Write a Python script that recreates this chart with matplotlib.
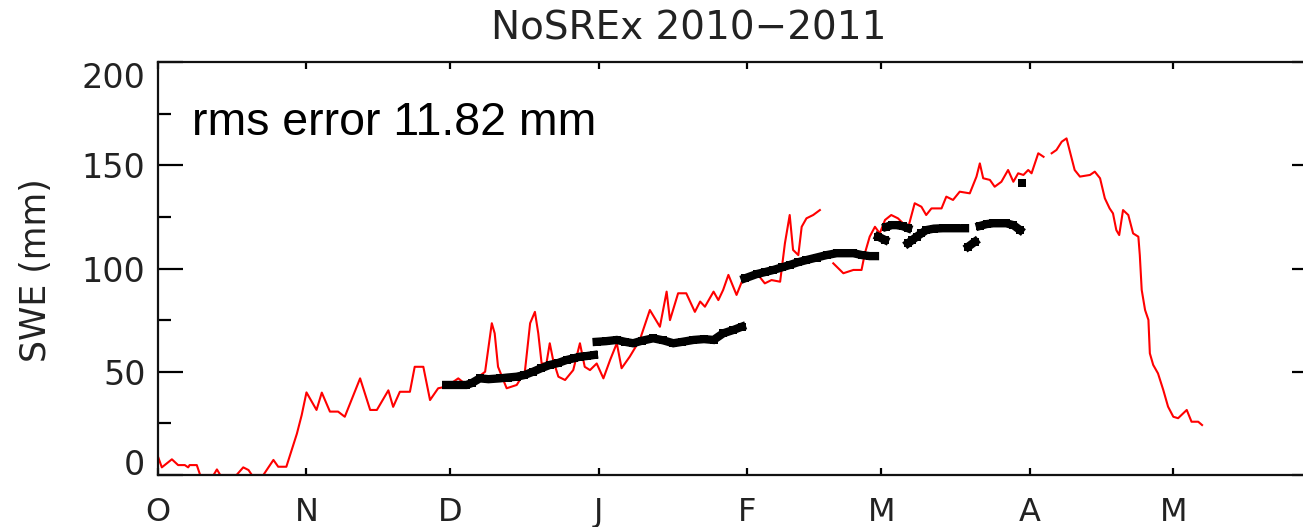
import numpy as np
import matplotlib
matplotlib.use("Agg")
import matplotlib.pyplot as plt

# days since 1 Oct 2010
model_day = [0, 0.8, 2.9, 4.2, 5.6, 6.3, 6.6, 8.1, 8.8, 11.6, 12.3, 13, 16.4, 17.8, 18.9, 19.6, 22,
             24.1, 25.1, 26.8, 27.9, 29, 30, 31, 33.1, 34.2, 35.9, 37.6, 39, 40.4, 42.2, 44.3, 45.7,
             48.1, 49.1, 50.5, 52.6, 53.6, 55.4, 56.8, 58.5, 60.2, 62.7, 64.8, 66.5, 68.3, 69.7, 70.3,
             71, 72.8, 74.9, 76.6, 77.7, 78.7, 79.4, 80.1, 81.1, 81.8, 82.5, 83.6, 85, 86.7, 88.1, 89.1,
             90.2, 91.6, 93, 94.4, 95.8, 96.8, 98.5, 100.6, 102.7, 104.8, 106.2, 106.9, 108.6, 110.3,
             112.1, 113.2, 114.2, 116, 117, 118, 119.1, 120.8, 121.9, 123.6, 125.3, 126.7, 128.1, 129.9,
             130.9, 131.9, 132.6, 133.7, 134.4, 135.4, 136.8, 138.2,
             np.nan,
             141, 143.1, 145.2, 146.9, 147.6, 148.6, 149.7, 150.7, 151.8, 153.1, 154.5, 156.6, 158,
             159.4, 160.4, 161.5, 163.6, 164.6, 166, 167.4, 169.5, 170.9, 171.6, 172.3, 173.7, 174.7,
             176.1, 177.5, 178.6, 179.6, 180.7, 181.7, 182.4, 183.8, 184.9,
             np.nan,
             186.6, 187.6, 188.7, 189.7, 190.7, 191.4, 192.5, 194.6, 195.6, 196.7, 197.7, 198.7, 199.4,
             200.1, 200.7, 201.5, 202.6, 203.6, 204.7, 205, 205.4, 206.1, 206.8, 207.1, 207.8, 208.8,
             209.9, 210.9, 212, 213, 214.1, 214.8, 215.8, 217.2, 218]
model_swe = [8.9, 3.7, 7.6, 4.8, 4.8, 3.7, 4.8, 4.8, 0, 0, 2.7, 0, 0, 3.7, 2.4, 0, 0,
             7.3, 4, 4, 12, 20, 29, 40, 31.5, 39.9, 30.7, 30.7, 28.2, 36.3, 46.8, 31.5, 31.5,
             41, 33, 40.3, 40.3, 52.4, 52.4, 36.3, 42, 42.8, 46.8, 42.8, 46.8, 50, 73.5, 68.6,
             52.4, 42, 43.6, 50, 73.5, 79, 68.6, 54, 54, 63.8, 55.7, 47.6, 46, 50.8, 63.8, 52.4,
             50.8, 54, 46.8, 55.7, 63.8, 51.7, 57.3, 65.4, 79.9, 71.8, 88.8, 75, 88, 88,
             79, 84, 81.5, 88.8, 84.7, 89.6, 96.9, 87.2, 93.6, 96, 96.9, 92.8, 94.4, 93.6,
             112.2, 125.9, 109, 106.5, 120.2, 124.3, 125.9, 128.3,
             np.nan,
             102.5, 97.7, 99.3, 99.3, 107.4, 115.4, 120.2, 117, 123.5, 125.9, 124.3, 119.5, 131.6,
             129.9, 125.9, 129.1, 129.1, 134.8, 133.2, 137.2, 136.4, 144.5, 150.9, 143.7, 142.9, 139.6,
             142, 147.7, 142, 146.1, 145.3, 147.7, 146.1, 155.8, 154.1,
             np.nan,
             155.8, 157.4, 161.4, 163, 154.1, 147.7, 144.5, 145.3, 146.9, 143.7, 134, 129.1, 126.7,
             118.6, 116.2, 128.3, 125.9, 117, 115.4, 106.5, 89.6, 79.9, 75.1, 58.9, 53.3, 49.2,
             41.2, 33.1, 28.2, 27.5, 29.9, 31.5, 25.8, 25.8, 24.2]

obs_day = [60.2, 62, 64.4, 65.5, 67.2, 69, 71.4, 73, 74.9, 76.5, 78.3, 80, 81.8, 83.5, 85.3, 86.8, 88.1, 89.5, 91,
           np.nan,
           91.6, 93.5, 95.8, 97.5, 99.2, 101, 103.4, 105.5, 107.6, 109.5, 111.8, 114, 116, 118, 120.1, 121.9,
           np.nan,
           122.5, 125, 126.8, 128.5, 130.2, 131.9, 133.6, 135.4, 137.5, 139.6, 141.7, 143.5, 145.2, 147, 148.6, 149.7,
           np.nan,
           150.4, 151.8,
           np.nan,
           152.1, 153.2, 154.2, 155.5, 156.6,
           np.nan,
           156.6, 157.5, 158.4, 159.4, 160.4, 162, 163.9, 165.3, 166.7, 168.5,
           np.nan,
           169.2, 170.6,
           np.nan,
           171.6, 173, 174.4, 175.8, 177.1, 178.6, 180,
           np.nan,
           180.5]
obs_swe = [43.6, 43.6, 43.6, 44.5, 46.8, 46.4, 46.8, 47.2, 47.6, 48.4, 50, 51.7, 53.3, 54.2, 55.7, 56.5, 57.3, 57.6, 58.1,
           np.nan,
           64.5, 64.8, 65.4, 64.5, 63.8, 65, 66.2, 65.2, 63.8, 64.5, 65.4, 65.8, 65.4, 68.6, 70.2, 71.8,
           np.nan,
           95.2, 97.3, 98.3, 99.3, 100.5, 101.7, 103, 104.1, 105.3, 106.5, 107.4, 107.4, 107.4, 106.5, 106, 106,
           np.nan,
           115.4, 113.8,
           np.nan,
           120.2, 121, 121, 120.5, 119.5,
           np.nan,
           112.2, 113.8, 115.4, 117, 118.6, 119.3, 119.5, 119.5, 119.5, 119.5,
           np.nan,
           110.6, 113,
           np.nan,
           120.6, 121.5, 121.9, 121.9, 121.9, 121, 118.6,
           np.nan,
           141.3]

month_start = [0, 31, 61, 92, 123, 151, 182, 212]
month_label = ['O', 'N', 'D', 'J', 'F', 'M', 'A', 'M']

fig = plt.figure(figsize=(13.03, 5.27), dpi=100)
ax = fig.add_axes([158/1303, 1-475/527, (1317-158)/1303, (475-62)/527])

ax.plot(model_day, model_swe, color='red', lw=1.5)
ax.plot(obs_day, obs_swe, color='black', lw=6, solid_capstyle='projecting',
        solid_joinstyle='miter', marker='s', ms=5.5, mew=0)

ax.set_xlim(0, 242)
ax.set_ylim(0, 200)
ax.set_xticks(month_start)
ax.set_xticklabels(month_label)
ax.set_yticks([0, 50, 100, 150, 200])
ax.set_yticks([25, 75, 125, 175], minor=True)

for s in ax.spines.values():
    s.set_linewidth(1.6)
    s.set_color('#111111')
ax.tick_params(axis='x', which='both', direction='in', length=5, width=1.6, top=True,
               labelsize=23, pad=16, labelcolor='#222222')
ax.tick_params(axis='y', which='major', direction='in', length=18, width=1.6, right=True,
               labelsize=24, pad=9, labelcolor='#222222')
ax.tick_params(axis='y', which='minor', direction='in', length=9.5, width=1.6, right=True)

# IDL keeps the end labels inside the axis range
ylabels = ax.get_yticklabels()
ylabels[0].set_verticalalignment('baseline')
ylabels[-1].set_verticalalignment('top')

fig.text(689/1303, 1-28/527, 'NoSREx 2010\u22122011', ha='center', va='center',
         fontsize=28, color='#222222')
fig.text(36/1303, 1-270/527, 'SWE (mm)', rotation=90, ha='center', va='center',
         fontsize=25, color='#222222')
fig.text(192/1303, 1-135/527, 'rms error 11.82 mm', ha='left', va='baseline',
         fontsize=33.5, family='Liberation Sans', color='black')

fig.savefig('out.png', dpi=100)
